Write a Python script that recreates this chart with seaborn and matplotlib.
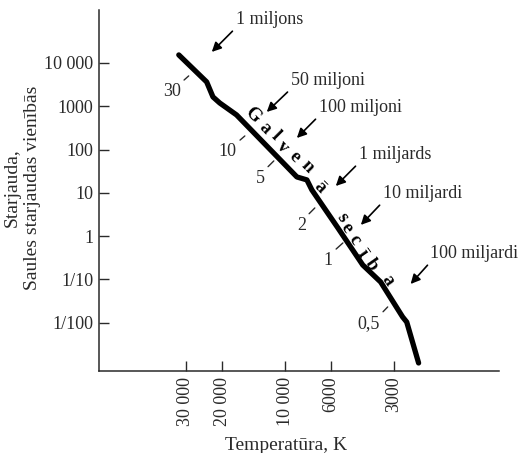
import numpy as np
import pandas as pd
import seaborn as sns
import matplotlib.pyplot as plt

# main sequence line (temperature K, luminosity in solar units)
seqT = [32400, 23800, 22200, 20600, 17100, 8770, 7850, 7430, 5570, 4230, 3470, 2720, 2600, 2280]
seqL = [15300, 3640, 1640, 1190, 630, 23.3, 19.9, 11.7, 1.55, 0.216, 0.0875, 0.0136, 0.0104, 0.00118]

# star masses: label, point near line, outer end of dash
massLabels = ["30", "10", "5", "2", "1", "0,5"]
massInT = [29040, 15600, 11320, 7190, 5270, 3210]
massInL = [5010, 206, 54.6, 4.48, 0.697, 0.0232]
massOutT = [31700, 17060, 12510, 7940, 5890, 3500]
massOutL = [3450, 142, 33.8, 2.77, 0.431, 0.0151]

# lifetimes: label, arrow tip, arrow tail (= text corner)
lifeLabels = ["1 miljons", "50 miljoni", "100 miljoni", "1 miljards", "10 miljardi", "100 miljardi"]
tipT = [22490, 12240, 8770, 5700, 4320, 2490]
tipL = [17950, 738, 185, 14.4, 1.82, 0.0787]
tailT = [17260, 9380, 6880, 4420, 3390, 2000]
tailL = [64300, 2510, 597, 49.1, 6.17, 0.254]

# "Galvenā secība" letters along the line
letters = ["G", "a", "l", "v", "e", "n", "ā", "s", "e", "c", "ī", "b", "a"]
letterT = [14290, 12500, 11070, 10250, 8980, 7850, 6810, 5330, 5050, 4620, 4230, 3830, 3210]
letterL = [630, 316, 206, 115, 67.4, 39.6, 13.7, 2.77, 1.55, 0.817, 0.409, 0.216, 0.097]
letterRot = [-45, -45, -45, -45, -45, -45, -45, -55, -55, -55, -55, -55, -55]

yTicks = [1e4, 1e3, 1e2, 10, 1, 0.1, 0.01]
yTickLabels = ["10 000", "1000", "100", "10", "1", "1/10", "1/100"]
xTicks = [30000, 20000, 10000, 6000, 3000]
xTickLabels = ["30 000", "20 000", "10 000", "6000", "3000"]

sns.set_style("ticks")
plt.rcParams['font.family'] = ['Liberation Serif', 'DejaVu Serif']
txtCol = "#2a2a2a"

fig = plt.figure(figsize=(5.23, 4.53), dpi=100)
ax = fig.add_axes([0.189, 0.181, 0.765, 0.797])

df = pd.DataFrame({"T": seqT, "L": seqL})
sns.lineplot(data=df, x="T", y="L", sort=False, color="black", lw=3.8, ax=ax)

ax.set_xscale("log")
ax.set_yscale("log")
ax.set_xlim(78500, 937)
ax.set_ylim(7.7e-4, 1.67e5)

ax.set_yticks(yTicks)
ax.set_yticklabels(yTickLabels)
ax.set_xticks(xTicks)
ax.set_xticklabels(xTickLabels, rotation=90, va="top")
ax.minorticks_off()
ax.tick_params(direction="in", length=7, width=1, colors=txtCol, labelsize=13, pad=4)

for s in ["top", "right"]:
    ax.spines[s].set_visible(False)
for s in ["left", "bottom"]:
    ax.spines[s].set_color(txtCol)
    ax.spines[s].set_linewidth(1.1)

ax.set_xlabel("Temperatūra, K", fontsize=14, color=txtCol)
ax.set_ylabel("Starjauda,\nSaules starjaudas vienībās", fontsize=14, color=txtCol)
ax.xaxis.set_label_coords(0.4675, -0.183)
ax.yaxis.set_label_coords(-0.145, 0.507)

for lab, x0, y0, x1, y1 in zip(massLabels, massInT, massInL, massOutT, massOutL):
    ax.annotate(lab, xy=(x0, y0), xytext=(x1, y1), ha="right", va="top",
                fontsize=13, color=txtCol,
                arrowprops=dict(arrowstyle="-", color=txtCol, lw=1, relpos=(1, 1),
                                shrinkA=0, shrinkB=0))

for lab, x0, y0, x1, y1 in zip(lifeLabels, tipT, tipL, tailT, tailL):
    ax.annotate(lab, xy=(x0, y0), xytext=(x1, y1), ha="left", va="bottom",
                fontsize=13, color=txtCol,
                arrowprops=dict(arrowstyle="-|>", color="black", lw=1.2, relpos=(0, 0),
                                mutation_scale=14, shrinkA=0, shrinkB=0))

for ch, x, y, r in zip(letters, letterT, letterL, letterRot):
    ax.text(x, y, ch, rotation=r, ha="center", va="center", fontsize=13.5,
            fontweight="bold", color="black", rotation_mode="anchor")

fig.savefig("out.png", dpi=100)
